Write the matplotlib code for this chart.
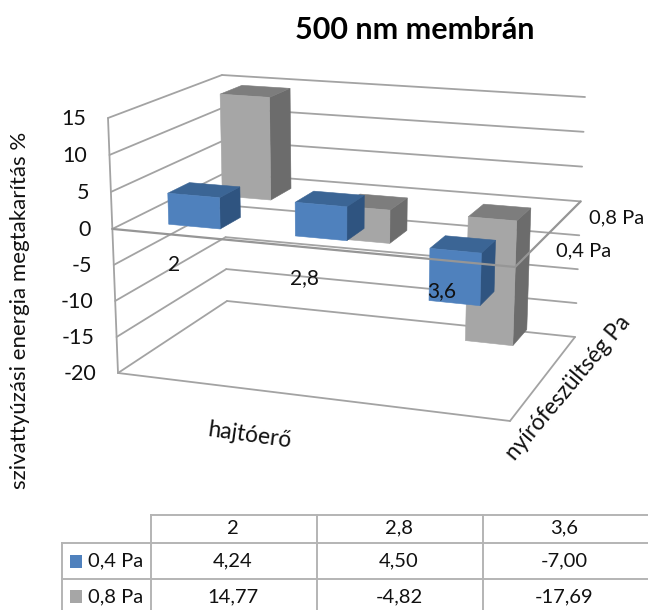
import numpy as np
import matplotlib
matplotlib.use("Agg")
import matplotlib.pyplot as plt
from matplotlib.patches import Polygon, Rectangle

# ---- data ----
categories = ["2", "2,8", "3,6"]
series_names = ["0,4 Pa", "0,8 Pa"]
values_04 = [4.24, 4.50, -7.00]
values_08 = [14.77, -4.82, -17.69]
z_ticks = [15, 10, 5, 0, -5, -10, -15, -20]
title = "500 nm membrán"
ylabel = "szivattyúzási energia megtakarítás %"
xlabel = "hajtóerő"
zlabel = "nyírófeszültség Pa"

plt.rcParams['font.family'] = ['Lato', 'DejaVu Sans']
W, H = 648, 610
fig = plt.figure(figsize=(W / 100, H / 100), dpi=100)
ax = fig.add_axes([0, 0, 1, 1])
ax.set_xlim(0, W)
ax.set_ylim(H, 0)
ax.axis("off")

# oblique chart box: corners at (z top, z bottom)
ZT, ZB = 15.0, -20.0
FL = np.array([[108, 118], [118, 373]], float)
BL = np.array([[222, 75], [227, 301]], float)
BR = np.array([[585, 97], [575, 337]], float)
FR = np.array([[519, 148.4], [510, 421]], float)
U_CENTERS = [0.165, 0.485, 0.825]


def proj(u, v, z):
    t = np.interp(z, [ZB, 0, ZT], [1.0, 0.435, 0.0])
    fl, bl, br, fr = [c[0] * (1 - t) + c[1] * t for c in (FL, BL, BR, FR)]
    front = fl * (1 - u) + fr * u
    back = bl * (1 - u) + br * u
    return front * (1 - v) + back * v


GRID = "#a3a3a3"
AXIS = "#969696"


def line(p, q, color=GRID, lw=1.3, z=1):
    ax.plot([p[0], q[0]], [p[1], q[1]], color=color, lw=lw, zorder=z,
            solid_capstyle="round")


# walls and floor
for zt in z_ticks:
    line(proj(0, 0, zt), proj(0, 1, zt))
    line(proj(0, 1, zt), proj(1, 1, zt))
line(proj(0, 0, ZT), proj(0, 0, ZB))
line(proj(0, 0, ZB), proj(1, 0, ZB))
line(proj(1, 0, ZB), proj(1, 1, ZB))

# bars
BAR_W = 0.13
BAR_D = 0.20
styles = [("#4f81bd", "#3b6595", "#2f5480"), ("#a6a6a6", "#7d7d7d", "#6c6c6c")]


def bar(i, j, val, cols, zo):
    uc = U_CENTERS[i]
    vc = (j + 0.5) / len(series_names)
    u0, u1 = uc - BAR_W / 2, uc + BAR_W / 2
    v0, v1 = vc - BAR_D / 2, vc + BAR_D / 2
    hi, lo = max(val, 0), min(val, 0)
    front = [proj(u0, v0, hi), proj(u1, v0, hi), proj(u1, v0, lo), proj(u0, v0, lo)]
    side = [proj(u1, v0, hi), proj(u1, v1, hi), proj(u1, v1, lo), proj(u1, v0, lo)]
    top = [proj(u0, v0, hi), proj(u1, v0, hi), proj(u1, v1, hi), proj(u0, v1, hi)]
    for pts, c in ((side, cols[2]), (top, cols[1]), (front, cols[0])):
        ax.add_patch(Polygon(pts, closed=True, fc=c, ec=c, lw=0.4, zorder=zo))


for j, vals in reversed(list(enumerate([values_04, values_08]))):
    for i, val in enumerate(vals):
        bar(i, j, val, styles[j], 3 + (1 - j))

# zero plane on top of the bars
line(proj(0, 0, 0), proj(1, 0, 0), AXIS, 1.6, 6)
line(proj(1, 0, 0), proj(1, 1, 0), AXIS, 1.6, 6)

TXT = "#111111"
for zt in z_ticks:
    p = proj(0, 0, zt)
    ax.text(p[0] - 22, p[1] + 1, f"{zt}", ha="right", va="center", fontsize=15.5,
            color=TXT, zorder=7)
label_x = [174, 304, 442]
for i, c in enumerate(categories):
    p = proj((i + 0.5) / 3, 0, 0)
    ax.text(label_x[i], p[1] + 30, c, ha="center", va="center", fontsize=15,
            color=TXT, zorder=7)
for j, s in enumerate(series_names):
    p = proj(1, (j + 0.5) / 2, 0)
    ax.text(p[0] + 52, p[1], s, ha="center", va="center", fontsize=14.5,
            color=TXT, zorder=7)

ax.text(415, 30, title, ha="center", va="center", fontsize=22, fontweight="bold", color="black")
ax.text(20, 310, ylabel, rotation=90, ha="center", va="center", fontsize=16, color=TXT)
ax.text(250, 435, xlabel, rotation=-8, ha="center", va="center", fontsize=16.5, color=TXT)
ax.text(568, 388, zlabel, rotation=50, ha="center", va="center", fontsize=16.3, color=TXT,
        rotation_mode="anchor")

# data table
TC = "#b4b4b4"
xs = [62, 151, 317, 483, 648]
ys = [515, 543, 579, 610]
ax.plot([xs[1], xs[4]], [ys[0]] * 2, color=TC, lw=1.4)
ax.plot([xs[0], xs[4]], [ys[1]] * 2, color=TC, lw=1.4)
ax.plot([xs[0], xs[4]], [ys[2]] * 2, color=TC, lw=1.4)
ax.plot([xs[0]] * 2, [ys[1], ys[3]], color=TC, lw=1.4)
for x in xs[1:4]:
    ax.plot([x, x], [ys[0], ys[3]], color=TC, lw=1.4)
cx = [(xs[k] + xs[k + 1]) / 2 for k in range(1, 4)]
for x, c in zip(cx, categories):
    ax.text(x - 1, 528, c, ha="center", va="center", fontsize=14.5, color=TXT)
row_y = [561, 596.5]
for yc, name, vals, st in zip(row_y, series_names, [values_04, values_08], styles):
    ax.add_patch(Rectangle((70, yc - 6.5), 12, 13, fc=st[0], ec="none"))
    ax.text(88, yc, name, ha="left", va="center", fontsize=14.5, color=TXT)
    for x, v in zip(cx, vals):
        ax.text(x - 1, yc, f"{v:.2f}".replace(".", ","), ha="center", va="center",
                fontsize=14.5, color=TXT)

fig.savefig("out.png", dpi=100)
